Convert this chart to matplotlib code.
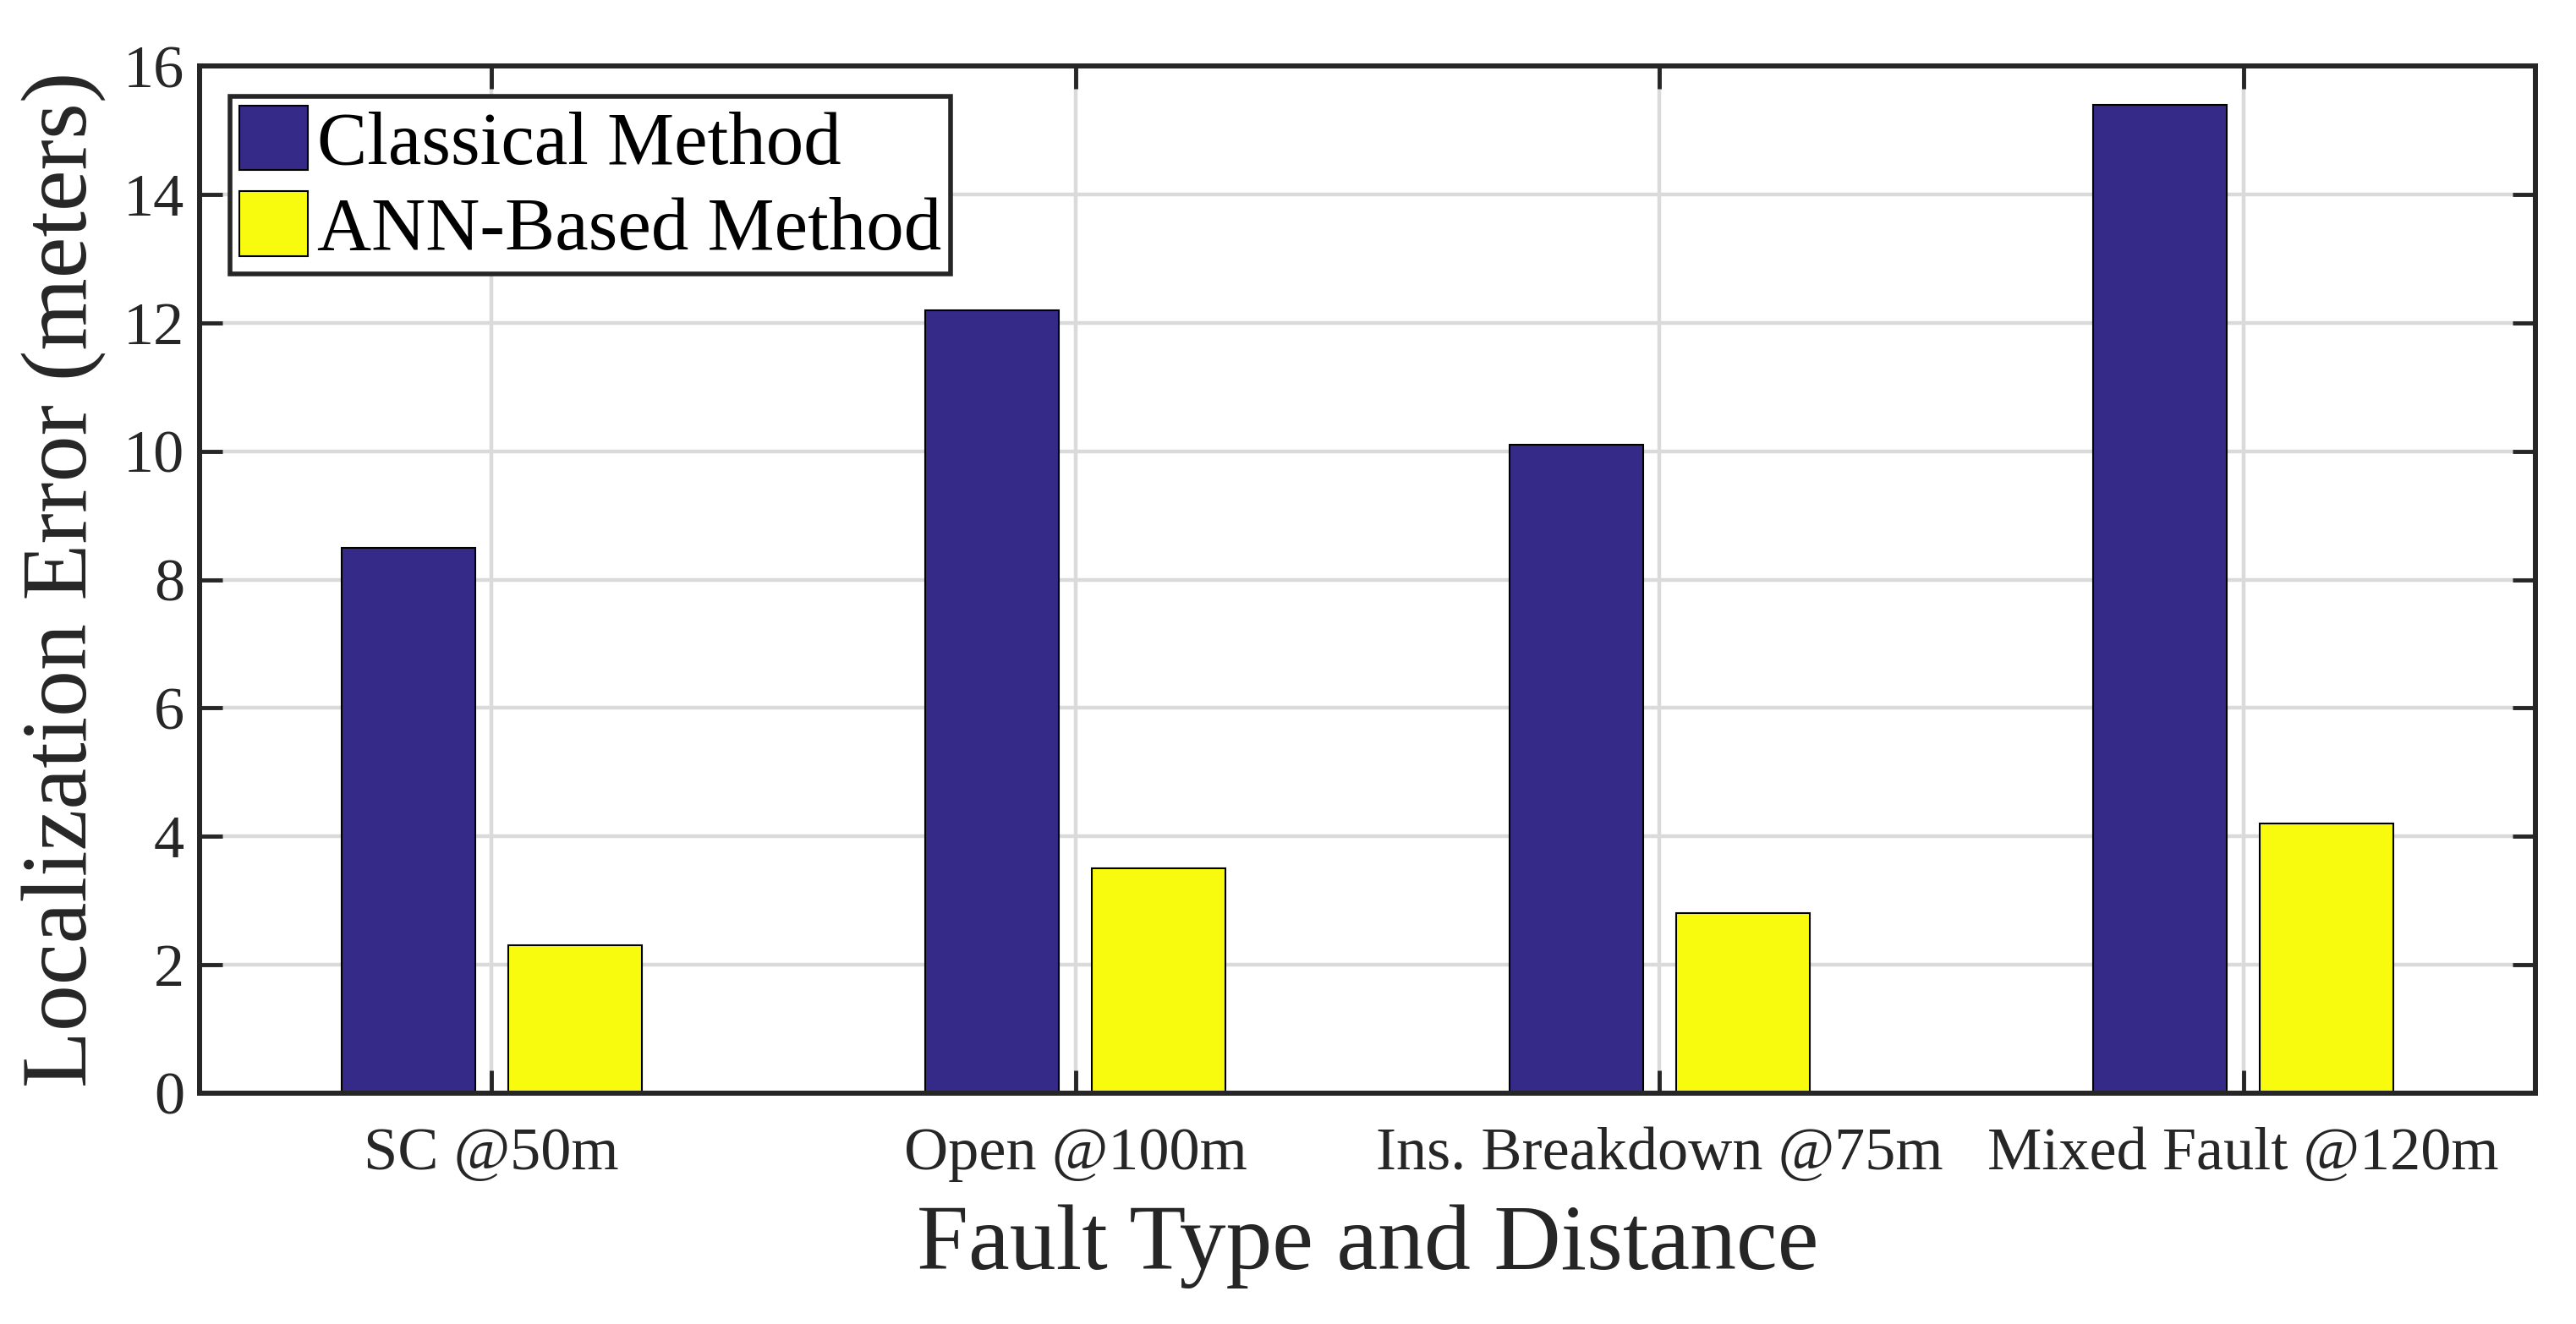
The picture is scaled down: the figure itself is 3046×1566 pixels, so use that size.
import numpy as np
import matplotlib
matplotlib.use("Agg")
import matplotlib.pyplot as plt

categories = ["SC @50m", "Open @100m", "Ins. Breakdown @75m", "Mixed Fault @120m"]
classical = [8.5, 12.2, 10.1, 15.4]
ann_based = [2.3, 3.5, 2.8, 4.2]
series_names = ["Classical Method", "ANN-Based Method"]
yticks = [0, 2, 4, 6, 8, 10, 12, 14, 16]

plt.rcParams['font.family'] = ['Liberation Serif', 'DejaVu Serif']
DARK = '#262626'

fig = plt.figure(figsize=(30.46, 15.66), dpi=100)
ax = fig.add_axes([236/3046, 1-1293/1566, (2998-236)/3046, (1293-78)/1566])

x = np.arange(1, len(categories)+1)
w = 0.2286
off = 0.142857
ax.bar(x-off, classical, w, color='#352A87', edgecolor='black', linewidth=1.5, label=series_names[0], zorder=2)
ax.bar(x+off, ann_based, w, color='#F9FB0E', edgecolor='black', linewidth=1.5, label=series_names[1], zorder=2)

ax.set_xlim(0.5, 4.5)
ax.set_ylim(0, 16)
ax.set_xticks(x)
ax.set_xticklabels(categories)
ax.set_yticks(yticks)
ax.set_yticklabels([str(v) for v in yticks])

ax.grid(True, color='#DADADA', linewidth=3.2, zorder=0)
ax.set_axisbelow(True)

for s in ax.spines.values():
    s.set_linewidth(4.3)
    s.set_color(DARK)
    s.set_zorder(5)

ax.tick_params(axis='both', which='both', direction='in', length=19.5, width=3.5,
               color=DARK, labelcolor=DARK, labelsize=52, top=True, right=True)
ax.tick_params(axis='x', pad=29)
ax.tick_params(axis='y', pad=13)

ax.set_xlabel("Fault Type and Distance", fontsize=79, color=DARK, labelpad=19)
ax.set_ylabel("Localization Error (meters)", fontsize=79, color=DARK, labelpad=14)

leg = ax.legend(loc='upper left', bbox_to_anchor=(272/3046, 1-114/1566),
                bbox_transform=fig.transFigure, borderaxespad=0,
                fontsize=64, frameon=True, fancybox=False,
                handlelength=0.92, handleheight=0.95, handletextpad=0.12,
                borderpad=0.12, labelspacing=0.15)
leg.get_frame().set_edgecolor(DARK)
leg.get_frame().set_linewidth(4)
leg.get_frame().set_alpha(1)
for p in leg.get_patches():
    p.set_linewidth(1.5)

fig.savefig("out.png", dpi=100)
